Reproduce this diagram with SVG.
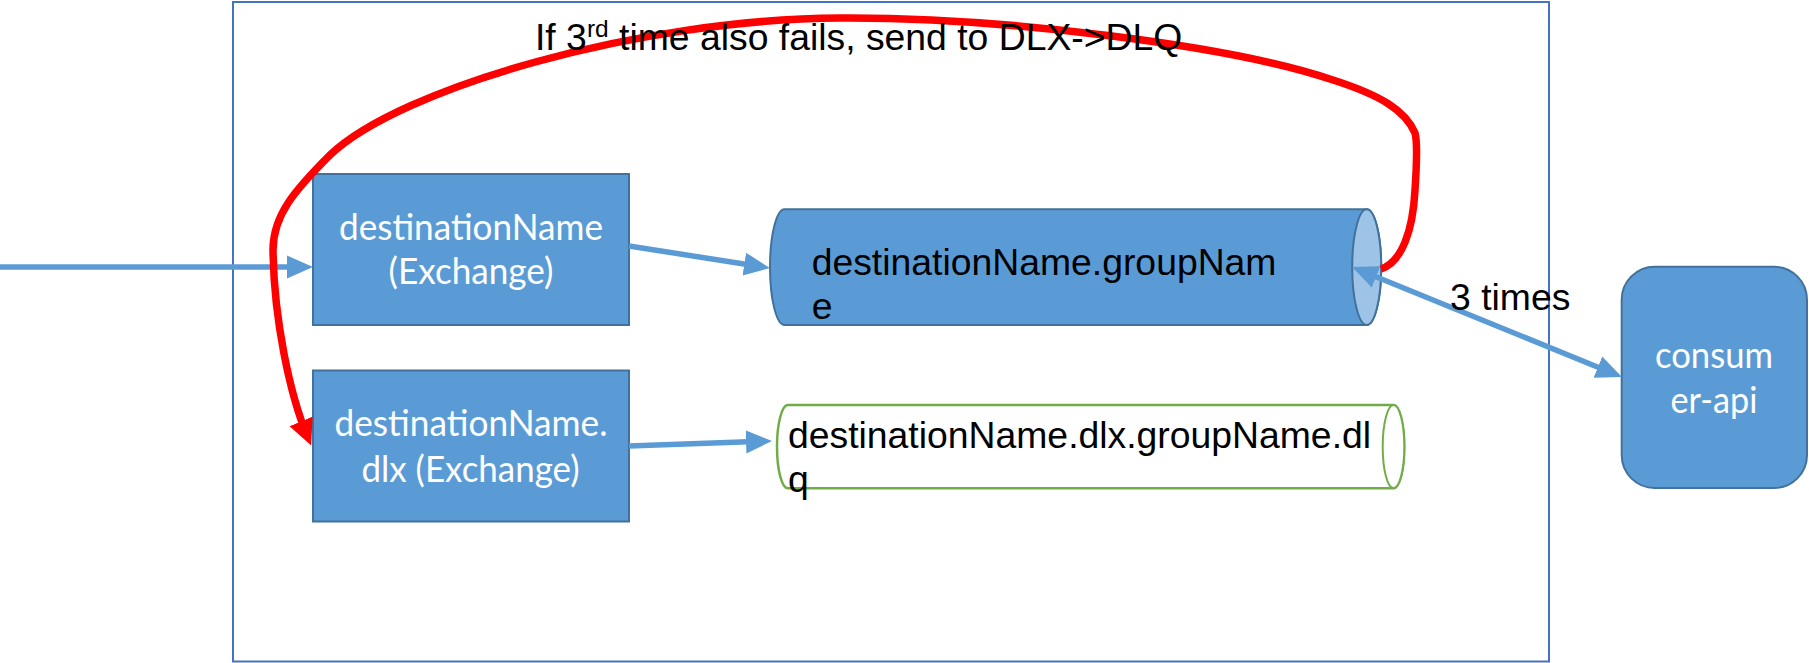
<svg xmlns="http://www.w3.org/2000/svg" width="1809" height="663" viewBox="0 0 1809 663">
<style>
.box{fill:#5B9BD5;stroke:#41719C;stroke-width:2}
.wt{fill:#FFFFFF;font-family:Lato,"Open Sans",sans-serif;font-size:37.33px;text-anchor:middle}
.bt{fill:#000000;font-family:"Liberation Sans",Arial,sans-serif;font-size:37.33px}
.blue{fill:none;stroke:#5B9BD5;stroke-width:5.5}
.red{fill:none;stroke:#FF0000;stroke-width:7.5}
</style>
<defs>
<marker id="ab" markerUnits="userSpaceOnUse" markerWidth="26" markerHeight="24" refX="16" refY="12" orient="auto-start-reverse" viewBox="0 0 26 24">
<path d="M0,0.5 L26,12 L0,23.5 Z" fill="#5B9BD5"/>
</marker>
<marker id="ar" markerUnits="userSpaceOnUse" markerWidth="26" markerHeight="26" refX="16" refY="13" orient="auto" viewBox="0 0 26 26">
<path d="M0,0.5 L26,13 L0,25.5 Z" fill="#FF0000"/>
</marker>
</defs>
<rect width="1809" height="663" fill="#FFFFFF"/>
<g id="frame">
<rect x="233" y="2" width="1316" height="659.5" fill="none" stroke="#4472C4" stroke-width="2"/>
</g>
<g id="exchange">
<rect class="box" x="313" y="174" width="316" height="151"/>
<text class="wt" x="471" y="240" textLength="264" lengthAdjust="spacingAndGlyphs">destinationName</text>
<text class="wt" x="471" y="284" textLength="165" lengthAdjust="spacingAndGlyphs">(Exchange)</text>
</g>
<g id="dlx-exchange">
<rect class="box" x="313" y="370.5" width="316" height="151"/>
<text class="wt" x="471" y="436" textLength="273" lengthAdjust="spacingAndGlyphs">destinationName.</text>
<text class="wt" x="470.5" y="481.5" textLength="218" lengthAdjust="spacingAndGlyphs">dlx (Exchange)</text>
</g>
<g id="queue">
<path d="M784.5,209.3 L1366.7,209.3 A14.5,57.85 0 0 1 1366.7,325 L784.5,325 A14.5,57.85 0 0 1 784.5,209.3 Z" fill="#5B9BD5" stroke="#41719C" stroke-width="2"/>
<ellipse cx="1366.7" cy="267.15" rx="14.5" ry="57.85" fill="#9DC3E6" stroke="#41719C" stroke-width="2"/>
<text class="bt" x="811.7" y="275">destinationName.groupNam</text>
<text class="bt" x="811.7" y="319">e</text>
</g>
<g id="dlq">
<path d="M787.8,405 L1393.5,405 A10.8,41.65 0 0 1 1393.5,488.3 L787.8,488.3 A10.8,41.65 0 0 1 787.8,405 Z" fill="#FFFFFF" stroke="#70AD47" stroke-width="2.5"/>
<ellipse cx="1393.5" cy="446.65" rx="10.8" ry="41.65" fill="#FFFFFF" stroke="#70AD47" stroke-width="2"/>
<text class="bt" x="788" y="448">destinationName.dlx.groupName.dl</text>
<text class="bt" x="788" y="492">q</text>
</g>
<g id="consumer-api">
<rect class="box" x="1621.7" y="266.7" width="185.3" height="221.3" rx="33" ry="33"/>
<text class="wt" x="1714" y="368" textLength="118" lengthAdjust="spacingAndGlyphs">consum</text>
<text class="wt" x="1714" y="413" textLength="87" lengthAdjust="spacingAndGlyphs">er-api</text>
</g>
<g id="connectors">
<path class="blue" d="M0,267 L303,267" marker-end="url(#ab)"/>
<path class="blue" d="M629,246 L760.1,266.5" marker-end="url(#ab)"/>
<path class="blue" d="M629,446 L762,441.35" marker-end="url(#ab)"/>
<path class="blue" d="M1361.3,270.8 L1612.7,373.2" marker-start="url(#ab)" marker-end="url(#ab)"/>
<path class="red" d="M1381,269 C1402,262 1413,230 1415,190 C1417,160 1417,140 1415,133 C1405,110 1380,95 1333,80 C1230,45 1000,17 840,18 C640,19 400,88 330,155 C295,190 273,215 273,250 C274,320 290,395 307.3,436.2" marker-end="url(#ar)"/>
</g>
<g id="labels">
<text class="bt" x="535" y="50">If 3<tspan font-size="24.5" dy="-13">rd</tspan><tspan dy="13"> time also fails, send to DLX-&gt;DLQ</tspan></text>
<text class="bt" x="1450" y="310">3 times</text>
</g>
</svg>
